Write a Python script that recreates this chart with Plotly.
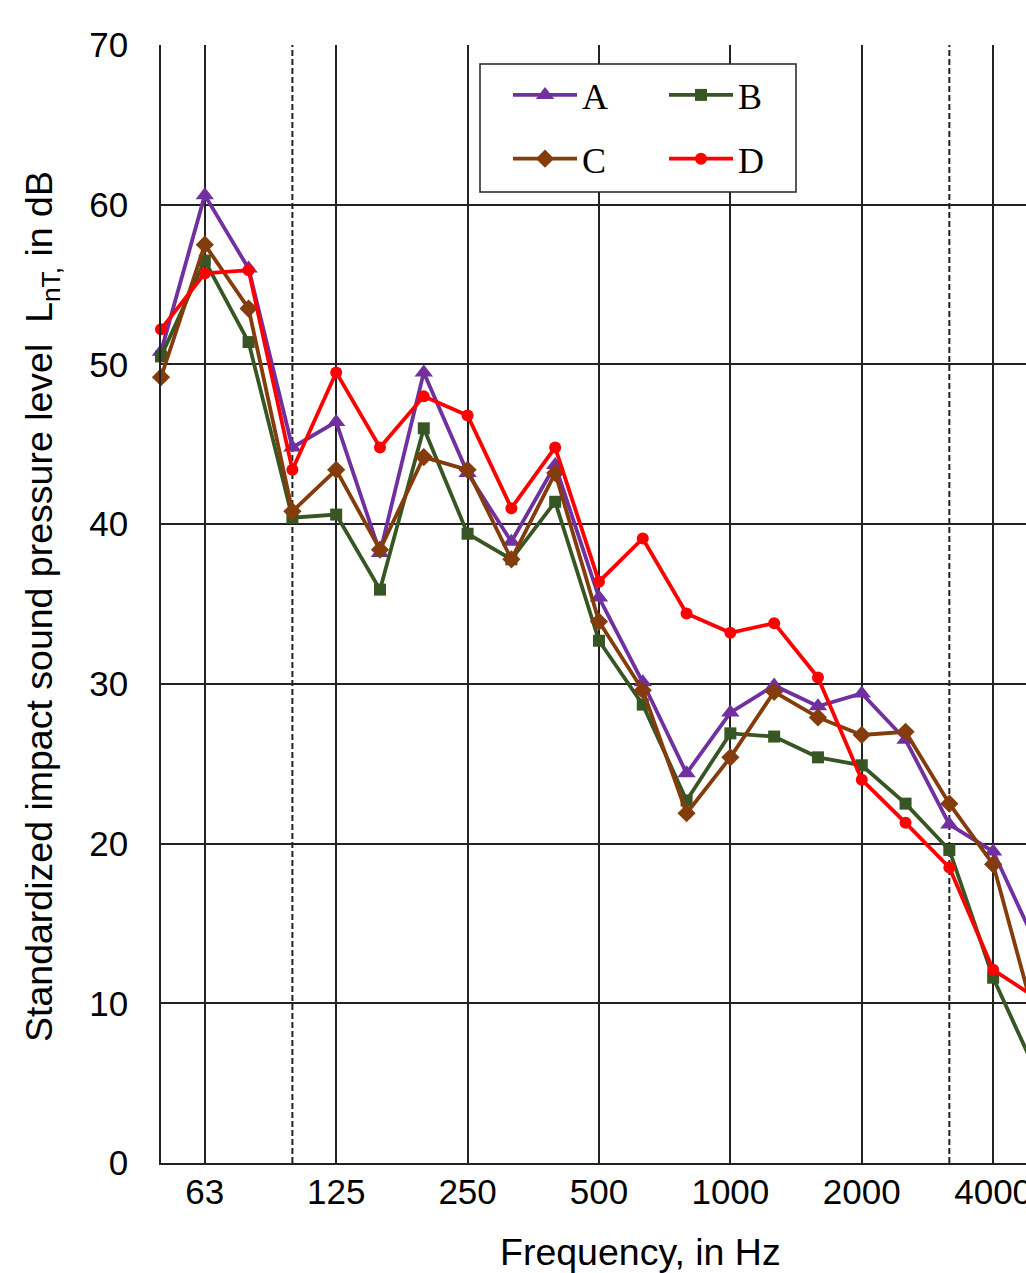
import plotly.graph_objects as go

# Third-octave band centre frequencies (Hz)
freqs = [50, 63, 80, 100, 125, 160, 200, 250, 315, 400, 500, 630, 800,
         1000, 1250, 1600, 2000, 2500, 3150, 4000, 5000]
tick_freqs = [63, 125, 250, 500, 1000, 2000, 4000]
tick_labels = ["63", "125", "250", "500", "1000", "2000", "4000"]
dashed_freqs = [100, 3150]

series_A = [50.8, 60.6, 56.0, 44.8, 46.4, 38.2, 49.5, 43.2, 38.9, 43.7, 35.4,
            30.1, 24.4, 28.2, 29.9, 28.6, 29.4, 26.5, 21.2, 19.5, 13.6]
series_B = [50.5, 56.5, 51.4, 40.4, 40.6, 35.9, 46.0, 39.4, 37.8, 41.4, 32.7,
            28.7, 22.7, 26.9, 26.7, 25.4, 24.9, 22.5, 19.6, 11.6, 5.6]
series_C = [49.2, 57.5, 53.5, 40.8, 43.4, 38.4, 44.2, 43.4, 37.8, 43.2, 33.9,
            29.6, 21.9, 25.4, 29.5, 27.9, 26.8, 27.0, 22.5, 18.7, 8.6]
series_D = [52.2, 55.7, 55.9, 43.4, 49.5, 44.8, 48.0, 46.8, 41.0, 44.8, 36.4,
            39.1, 34.4, 33.2, 33.8, 30.4, 24.0, 21.3, 18.5, 12.1, 10.3]

names = ["A", "B", "C", "D"]
values = [series_A, series_B, series_C, series_D]
colors = ["#7030A0", "#375623", "#843C0C", "#FF0000"]
symbols = ["triangle-up", "square", "diamond", "circle"]
sizes = [16, 12, 14, 12]
legends = ["legend", "legend2", "legend", "legend2"]

xpos = list(range(len(freqs)))

fig = go.Figure()
for name, vals, col, sym, sz, lg in zip(names, values, colors, symbols, sizes, legends):
    fig.add_trace(go.Scatter(
        x=xpos, y=vals, name=name, mode="lines+markers",
        line=dict(color=col, width=3.8),
        marker=dict(symbol=sym, size=sz, color=col),
        legend=lg, legendgroup=name, cliponaxis=False,
    ))

W, H = 1026, 1273
PLOT_L, PLOT_T, PLOT_R, PLOT_B = 161, 45, 1026, 1163  # pixel coords
L, T, R, B = PLOT_L, PLOT_T, W - PLOT_R, H - PLOT_B
pw, ph = PLOT_R - PLOT_L, PLOT_B - PLOT_T

def px_x(p):
    return (p - PLOT_L) / pw

def px_y(p):
    return (PLOT_B - p) / ph

tick_font = dict(family="Arial, Liberation Sans, sans-serif", size=35, color="#000000")
title_font = dict(family="Arial, Liberation Sans, sans-serif", size=37.5, color="#000000")
legend_font = dict(family="Times New Roman, Liberation Serif, serif", size=36, color="#000000")

# dashed reference lines at band boundaries
for f in dashed_freqs:
    xi = freqs.index(f)
    fig.add_shape(type="line", xref="x", yref="paper", x0=xi, x1=xi, y0=0, y1=1,
                  line=dict(color="#222222", width=2, dash="6px,3px"), layer="below")

# legend frame
fig.add_shape(type="rect", xref="paper", yref="paper",
              x0=px_x(480), x1=px_x(796), y0=px_y(192), y1=px_y(64),
              line=dict(color="#222222", width=1.5), fillcolor="white", layer="above")

fig.update_layout(
    width=W, height=H,
    margin=dict(l=L, r=R, t=T, b=B, pad=0, autoexpand=False),
    paper_bgcolor="white", plot_bgcolor="white",
    showlegend=True,
    legend=dict(x=px_x(508), y=px_y(65), xanchor="left", yanchor="top",
                bgcolor="rgba(0,0,0,0)", borderwidth=0, font=legend_font,
                tracegroupgap=14, itemwidth=64),
    legend2=dict(x=px_x(664), y=px_y(65), xanchor="left", yanchor="top",
                 bgcolor="rgba(0,0,0,0)", borderwidth=0, font=legend_font,
                 tracegroupgap=14, itemwidth=64),
    xaxis=dict(range=[0, 19.75], tickvals=[freqs.index(f) for f in tick_freqs],
               ticktext=tick_labels, showgrid=True, gridcolor="#222222", gridwidth=1.6,
               showline=True, linecolor="#222222", linewidth=1.6, zeroline=False,
               ticks="", tickfont=tick_font, ticklabelstandoff=-3,
               ticklabeloverflow="allow", automargin=False),
    yaxis=dict(range=[0, 70], dtick=10, tick0=0, showgrid=True, gridcolor="#222222",
               gridwidth=1.6, showline=True, linecolor="#222222", linewidth=1.6,
               zeroline=False, ticks="", tickfont=tick_font, ticklabelstandoff=24,
               automargin=False),
    annotations=[
        dict(text="Frequency, in Hz", xref="paper", yref="paper",
             x=px_x(640), y=px_y(1252), xanchor="center", yanchor="middle",
             showarrow=False, font=title_font),
        dict(text="Standardized impact sound pressure level  L<sub>nT,</sub> in dB",
             xref="paper", yref="paper", x=px_x(42), y=px_y(607),
             xanchor="center", yanchor="middle", textangle=-90,
             showarrow=False, font=title_font),
    ],
)

fig.write_html(
    "out.html",
    config={"displayModeBar": False},
    post_script="document.body.style.margin='0';"
                "document.documentElement.style.overflow='hidden';",
)
